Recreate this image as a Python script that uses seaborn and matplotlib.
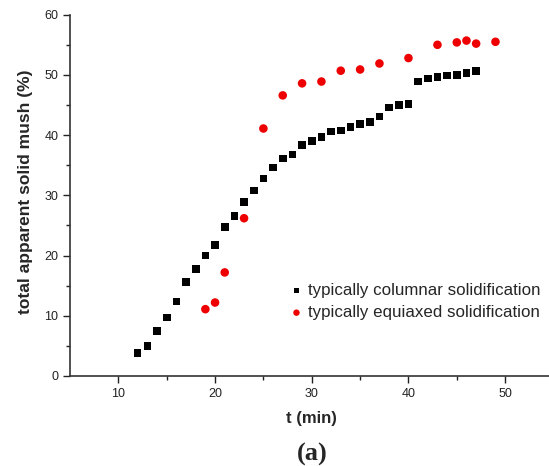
import numpy as np
import pandas as pd
import matplotlib
matplotlib.use("Agg")
import matplotlib.pyplot as plt
import seaborn as sns

# Data
col_t = [12, 13, 14, 15, 16, 17, 18, 19, 20, 21, 22, 23, 24, 25, 26, 27, 28, 29,
         30, 31, 32, 33, 34, 35, 36, 37, 38, 39, 40, 41, 42, 43, 44, 45, 46, 47]
col_v = [3.8, 5.0, 7.5, 9.7, 12.4, 15.6, 17.8, 20.0, 21.8, 24.7, 26.6, 28.9, 30.8, 32.8,
         34.6, 36.1, 36.8, 38.4, 39.0, 39.7, 40.6, 40.8, 41.4, 41.8, 42.2, 43.1, 44.6,
         45.0, 45.2, 48.9, 49.4, 49.7, 49.9, 50.0, 50.3, 50.7]
equ_t = [19, 20, 21, 23, 25, 27, 29, 31, 33, 35, 37, 40, 43, 45, 46, 47, 49]
equ_v = [11.1, 12.2, 17.2, 26.2, 41.1, 46.6, 48.6, 48.9, 50.7, 50.9, 51.9, 52.8,
         55.0, 55.4, 55.7, 55.2, 55.5]
labels = ["typically columnar solidification", "typically equiaxed solidification"]

sns.set_style("ticks")
plt.rcParams['font.family'] = ['Liberation Sans', 'DejaVu Sans']

fig = plt.figure(figsize=(5.49, 4.66), dpi=100)
ax = fig.add_axes([70/549, 90/466, 483.5/549, 361.3/466])

df_c = pd.DataFrame({"t": col_t, "v": col_v})
df_e = pd.DataFrame({"t": equ_t, "v": equ_v})
sns.scatterplot(data=df_c, x="t", y="v", ax=ax, marker="s", s=30, color="black",
                edgecolor="none", linewidth=0, label=labels[0])
sns.scatterplot(data=df_e, x="t", y="v", ax=ax, marker="o", s=38, color="#ee0000",
                edgecolor="none", linewidth=0, label=labels[1])

ax.set_xlim(5, 55)
ax.set_ylim(0, 60)
ax.set_xticks([10, 20, 30, 40, 50])
ax.set_xticks([15, 25, 35, 45], minor=True)
ax.set_yticks([0, 10, 20, 30, 40, 50, 60])
ax.set_yticks([5, 15, 25, 35, 45, 55], minor=True)
ax.tick_params(axis='both', which='major', direction='out', length=5, width=1,
               labelsize=9, colors='#222222')
ax.tick_params(axis='both', which='minor', direction='out', length=3, width=1, colors='#222222')
for s in ['top', 'right']:
    ax.spines[s].set_visible(False)
for s in ['left', 'bottom']:
    ax.spines[s].set_linewidth(1.2)
    ax.spines[s].set_color('#333333')

ax.set_xlabel("t (min)", fontsize=12, fontweight='bold', labelpad=8)
ax.set_ylabel("total apparent solid mush (%)", fontsize=12.5, fontweight='bold')
ax.yaxis.set_label_coords(-0.0765, 0.509)

leg = ax.legend(loc='upper left', bbox_to_anchor=(288/549, 1 - 283/466),
                bbox_transform=fig.transFigure, frameon=False, fontsize=12.2,
                handletextpad=0.2, labelspacing=0.42, borderaxespad=0, borderpad=0,
                handlelength=1.0, markerscale=0.75)

fig.text(312/549, 1 - 454/466, "(a)", ha='center', va='center',
         fontsize=19, fontweight='bold', family='Liberation Serif')

fig.savefig("out.png", dpi=100)
